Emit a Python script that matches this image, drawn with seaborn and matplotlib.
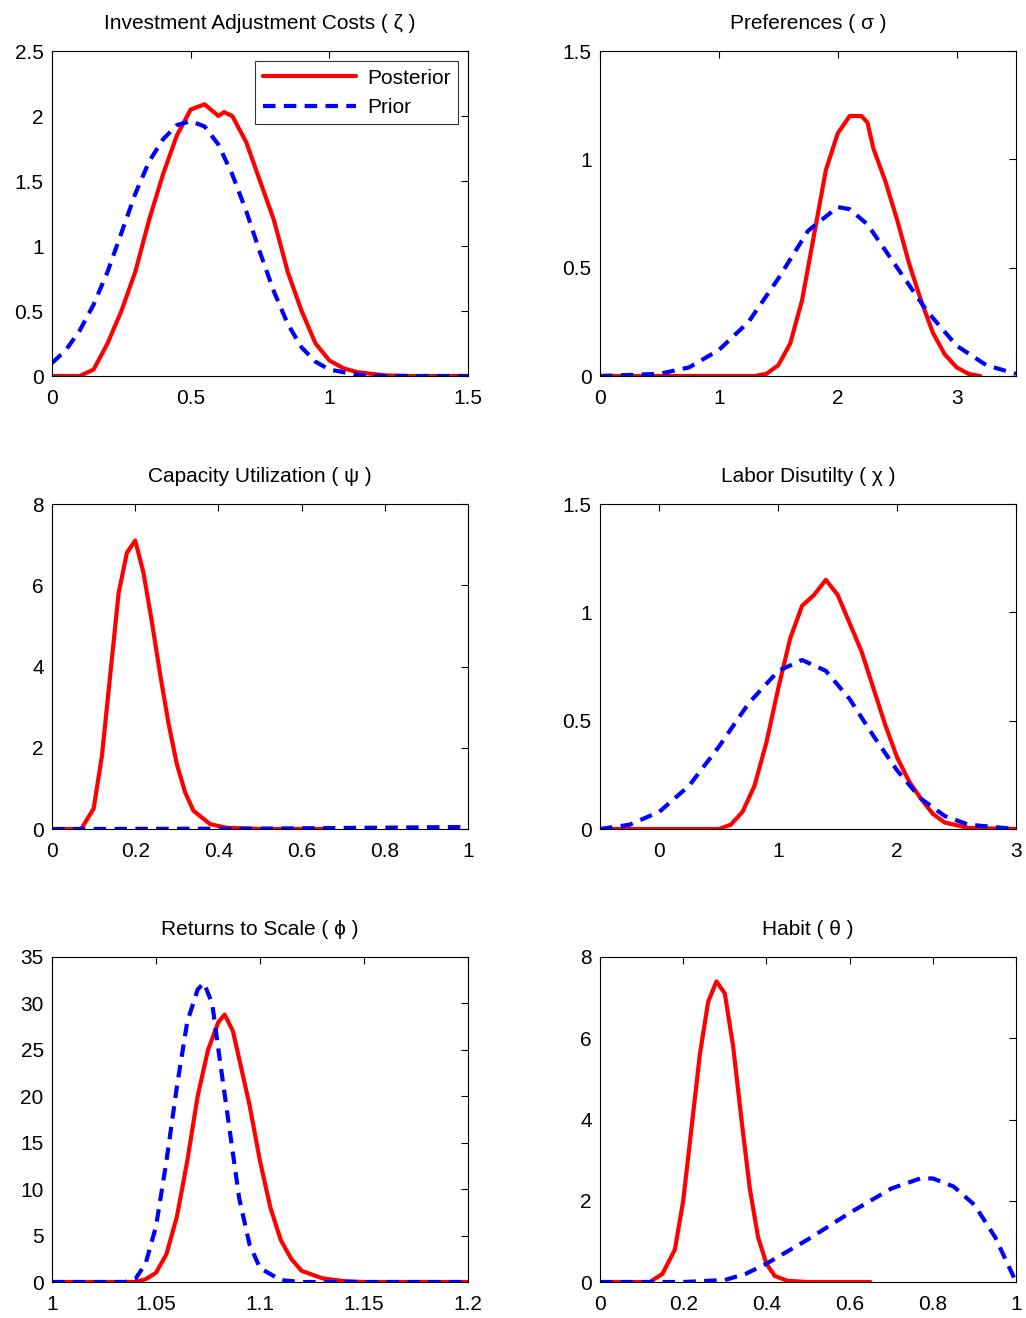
import matplotlib
matplotlib.use("Agg")
import matplotlib.pyplot as plt
import seaborn as sns
from matplotlib.ticker import FuncFormatter

# panel 1: investment adjustment costs
zeta_post_x = [0, 0.1, 0.15, 0.2, 0.25, 0.3, 0.35, 0.4, 0.45, 0.5, 0.55, 0.6, 0.62, 0.65, 0.7, 0.75, 0.8, 0.85, 0.9, 0.95, 1.0, 1.05, 1.1, 1.2, 1.3, 1.5]
zeta_post_y = [0, 0, 0.05, 0.25, 0.5, 0.8, 1.2, 1.55, 1.85, 2.05, 2.09, 2.0, 2.03, 2.0, 1.8, 1.5, 1.2, 0.8, 0.5, 0.25, 0.12, 0.06, 0.03, 0.005, 0, 0]
zeta_prior_x = [0, 0.05, 0.1, 0.15, 0.2, 0.25, 0.3, 0.35, 0.4, 0.45, 0.5, 0.55, 0.6, 0.65, 0.7, 0.75, 0.8, 0.85, 0.9, 0.95, 1.0, 1.1, 1.2, 1.5]
zeta_prior_y = [0.1, 0.2, 0.35, 0.55, 0.8, 1.1, 1.4, 1.65, 1.82, 1.93, 1.96, 1.92, 1.78, 1.55, 1.27, 0.95, 0.65, 0.4, 0.22, 0.11, 0.05, 0.01, 0, 0]

# panel 2: preferences
sigma_post_x = [0, 1.3, 1.4, 1.5, 1.6, 1.7, 1.8, 1.9, 2.0, 2.1, 2.2, 2.25, 2.3, 2.4, 2.5, 2.6, 2.7, 2.8, 2.9, 3.0, 3.1, 3.2]
sigma_post_y = [0, 0, 0.01, 0.05, 0.15, 0.35, 0.65, 0.95, 1.12, 1.2, 1.2, 1.17, 1.05, 0.9, 0.72, 0.52, 0.35, 0.2, 0.1, 0.04, 0.01, 0]
sigma_prior_x = [0, 0.5, 0.75, 1.0, 1.25, 1.5, 1.75, 2.0, 2.1, 2.25, 2.5, 2.75, 3.0, 3.25, 3.5]
sigma_prior_y = [0, 0.01, 0.04, 0.12, 0.25, 0.45, 0.67, 0.78, 0.77, 0.7, 0.5, 0.3, 0.14, 0.05, 0.01]

# panel 3: capacity utilization
psi_post_x = [0, 0.07, 0.1, 0.12, 0.14, 0.16, 0.18, 0.2, 0.22, 0.24, 0.26, 0.28, 0.3, 0.32, 0.34, 0.38, 0.42, 0.5, 0.65]
psi_post_y = [0, 0, 0.5, 1.8, 3.8, 5.8, 6.8, 7.1, 6.3, 5.1, 3.8, 2.6, 1.6, 0.9, 0.45, 0.12, 0.03, 0, 0]
psi_prior_x = [0, 0.5, 1.0]
psi_prior_y = [0, 0.01, 0.05]

# panel 4: labor disutility
chi_post_x = [-0.5, 0.5, 0.6, 0.7, 0.8, 0.9, 1.0, 1.1, 1.2, 1.3, 1.4, 1.5, 1.6, 1.7, 1.8, 1.9, 2.0, 2.1, 2.2, 2.3, 2.4, 2.6, 3.0]
chi_post_y = [0, 0, 0.02, 0.08, 0.2, 0.4, 0.65, 0.88, 1.03, 1.08, 1.15, 1.08, 0.95, 0.82, 0.65, 0.48, 0.33, 0.22, 0.14, 0.07, 0.03, 0.005, 0]
chi_prior_x = [-0.5, -0.25, 0, 0.25, 0.5, 0.75, 1.0, 1.2, 1.4, 1.6, 1.8, 2.0, 2.2, 2.4, 2.6, 3.0]
chi_prior_y = [0, 0.02, 0.08, 0.2, 0.38, 0.58, 0.73, 0.78, 0.73, 0.6, 0.43, 0.27, 0.14, 0.06, 0.02, 0]

# panel 5: returns to scale
phi_post_x = [1.0, 1.04, 1.045, 1.05, 1.055, 1.06, 1.065, 1.07, 1.075, 1.08, 1.083, 1.087, 1.09, 1.095, 1.1, 1.105, 1.11, 1.115, 1.12, 1.13, 1.14, 1.15, 1.2]
phi_post_y = [0, 0, 0.3, 1, 3, 7, 13, 20, 25, 28, 28.8, 27, 24, 19, 13, 8, 4.5, 2.5, 1.2, 0.4, 0.1, 0, 0]
phi_prior_x = [1.0, 1.035, 1.04, 1.045, 1.05, 1.055, 1.06, 1.065, 1.07, 1.073, 1.077, 1.08, 1.085, 1.09, 1.095, 1.1, 1.11, 1.12, 1.2]
phi_prior_y = [0, 0, 0.3, 2, 6, 13, 21, 28, 31.5, 32.2, 30, 25, 17, 9, 4, 1.5, 0.2, 0, 0]

# panel 6: habit
theta_post_x = [0, 0.12, 0.15, 0.18, 0.2, 0.22, 0.24, 0.26, 0.28, 0.3, 0.32, 0.34, 0.36, 0.38, 0.4, 0.42, 0.45, 0.5, 0.65]
theta_post_y = [0, 0, 0.2, 0.8, 2, 3.8, 5.6, 6.9, 7.4, 7.1, 5.8, 4, 2.3, 1.1, 0.45, 0.15, 0.03, 0, 0]
theta_prior_x = [0, 0.2, 0.3, 0.35, 0.4, 0.5, 0.6, 0.7, 0.77, 0.8, 0.85, 0.9, 0.95, 1.0]
theta_prior_y = [0, 0, 0.05, 0.2, 0.45, 1.05, 1.7, 2.3, 2.55, 2.55, 2.35, 1.9, 1.1, 0]

panels = [
    ("Investment Adjustment Costs ( ζ )", zeta_post_x, zeta_post_y, zeta_prior_x, zeta_prior_y, (0, 1.5), [0, 0.5, 1, 1.5], (0, 2.5), [0, 0.5, 1, 1.5, 2, 2.5]),
    ("Preferences ( σ )", sigma_post_x, sigma_post_y, sigma_prior_x, sigma_prior_y, (0, 3.5), [0, 1, 2, 3], (0, 1.5), [0, 0.5, 1, 1.5]),
    ("Capacity Utilization ( ψ )", psi_post_x, psi_post_y, psi_prior_x, psi_prior_y, (0, 1), [0, 0.2, 0.4, 0.6, 0.8, 1], (0, 8), [0, 2, 4, 6, 8]),
    ("Labor Disutilty ( χ )", chi_post_x, chi_post_y, chi_prior_x, chi_prior_y, (-0.5, 3), [0, 1, 2, 3], (0, 1.5), [0, 0.5, 1, 1.5]),
    ("Returns to Scale ( ϕ )", phi_post_x, phi_post_y, phi_prior_x, phi_prior_y, (1, 1.2), [1, 1.05, 1.1, 1.15, 1.2], (0, 35), [0, 5, 10, 15, 20, 25, 30, 35]),
    ("Habit ( θ )", theta_post_x, theta_post_y, theta_prior_x, theta_prior_y, (0, 1), [0, 0.2, 0.4, 0.6, 0.8, 1], (0, 8), [0, 2, 4, 6, 8]),
]

sns.set_style("white")
plt.rcParams['font.family'] = ['Liberation Sans', 'DejaVu Sans']
plt.rcParams['font.size'] = 15
plt.rcParams['text.color'] = 'black'
plt.rcParams['xtick.color'] = 'black'
plt.rcParams['ytick.color'] = 'black'

fig = plt.figure(figsize=(10.26, 13.18), dpi=100)
lefts = [0.0507, 0.5848]
bottoms = [0.7147, 0.371, 0.0273]
fmt = FuncFormatter(lambda v, p: "%g" % v)

for i, (title, px, py, qx, qy, xlim, xt, ylim, yt) in enumerate(panels):
    ax = fig.add_axes([lefts[i % 2], bottoms[i // 2], 0.4055, 0.2466])
    sns.lineplot(x=px, y=py, ax=ax, color="red", lw=3, label="Posterior", sort=False)
    sns.lineplot(x=qx, y=qy, ax=ax, color="blue", lw=3, ls=(0, (3, 2)), label="Prior", sort=False)
    ax.set_xlim(*xlim)
    ax.set_ylim(*ylim)
    ax.set_xticks(xt)
    ax.set_yticks(yt)
    ax.xaxis.set_major_formatter(fmt)
    ax.yaxis.set_major_formatter(fmt)
    ax.tick_params(direction="in", top=True, right=True, length=5, width=0.8, labelsize=15)
    ax.tick_params(axis="x", pad=9)
    ax.tick_params(axis="y", pad=6)
    for s in ax.spines.values():
        s.set_linewidth(0.8)
        s.set_color("black")
    ax.set_title(title, fontsize=15, pad=16, color="black")
    if i == 0:
        leg = ax.legend(loc="upper right", fontsize=15, frameon=True, fancybox=False,
                        edgecolor="black", handlelength=4.5, borderpad=0.35,
                        labelspacing=0.5, borderaxespad=0.5, handletextpad=0.5)
        leg.get_frame().set_linewidth(0.8)
    else:
        ax.get_legend().remove()

fig.savefig("out.png", dpi=100, facecolor="white")
